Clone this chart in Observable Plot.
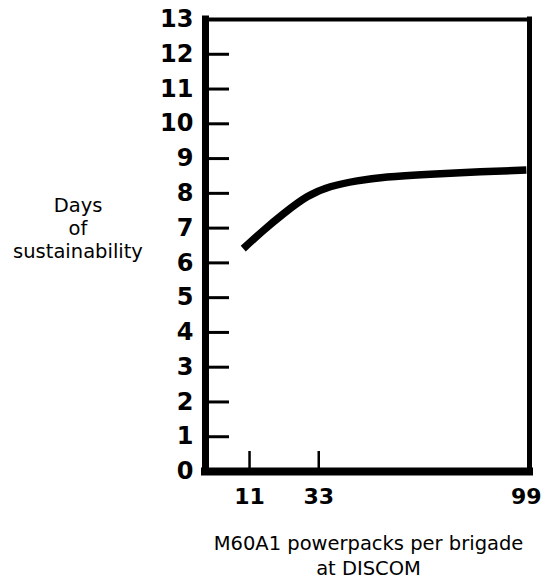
<!DOCTYPE html>
<html>
<head>
<meta charset="utf-8">
<script src="https://cdn.jsdelivr.net/npm/d3@7"></script>
<script src="https://cdn.jsdelivr.net/npm/@observablehq/plot@0.6"></script>
<style>
  html, body { margin: 0; padding: 0; background: white; }
</style>
</head>
<body>
<div id="chart"></div>
<script>
// Data
const powerpacks = [9, 15.5, 21.9, 29.3, 36.7, 45.2, 54.8, 68.5, 84.4, 99];
const daysOfSustainability = [6.41, 6.94, 7.42, 7.90, 8.19, 8.36, 8.47, 8.55, 8.62, 8.67];

// Axes
const xDomain = [-3, 100];
const yDomain = [0, 13];
const yTickLabels = [0, 1, 2, 3, 4, 5, 6, 7, 8, 9, 10, 11, 12, 13];
const yTickMarks = [1, 2, 3, 4, 5, 6, 7, 8, 9, 10, 11, 12];
const xTickLabels = [11, 33, 99];
const xTickMarks = [11, 33];
const yTitle = "Days\nof\nsustainability";
const xTitle = "M60A1 powerpacks per brigade\nat DISCOM";

const data = powerpacks.map((p, i) => ({p, d: daysOfSustainability[i]}));

const chart = Plot.plot({
  width: 550,
  height: 580,
  marginLeft: 205,
  marginRight: 21,
  marginTop: 19,
  marginBottom: 109,
  style: {fontFamily: "'DejaVu Sans', sans-serif", background: "white", color: "black"},
  x: {domain: xDomain, label: null},
  y: {domain: yDomain, label: null},
  marks: [
    // inward tick marks
    Plot.axisY({ticks: yTickMarks, tickSize: -24, text: null, strokeWidth: 3, label: null}),
    Plot.axisX({ticks: xTickMarks, tickSize: -20, text: null, strokeWidth: 2.5, label: null}),
    // tick labels
    Plot.axisY({ticks: yTickLabels, tickSize: 0, tickPadding: 12, fontSize: 24, fontWeight: "bold", label: null, fill: "black"}),
    Plot.axisX({ticks: xTickLabels, tickSize: 0, tickPadding: 17, fontSize: 22, fontWeight: "bold", label: null, fill: "black"}),
    // frame
    Plot.ruleY([yDomain[1]], {strokeWidth: 4, strokeLinecap: "square"}),
    Plot.ruleX([xDomain[1]], {strokeWidth: 5, strokeLinecap: "square"}),
    Plot.ruleX([xDomain[0]], {strokeWidth: 7, strokeLinecap: "square"}),
    Plot.ruleY([yDomain[0]], {strokeWidth: 8, strokeLinecap: "square"}),
    // curve
    Plot.line(data, {x: "p", y: "d", curve: "natural", strokeWidth: 7.5, stroke: "black", strokeLinecap: "butt"}),
    // axis titles
    Plot.text([yTitle], {frameAnchor: "left", dx: -127.5, dy: -18, textAnchor: "middle", lineAnchor: "middle", lineHeight: 1.2, fontSize: 19.5, fill: "black"}),
    Plot.text([xTitle], {frameAnchor: "bottom", dx: 1, dy: 60, textAnchor: "middle", lineAnchor: "top", lineHeight: 1.3, fontSize: 19.5, fill: "black"})
  ]
});
document.getElementById("chart").appendChild(chart);
</script>
</body>
</html>
